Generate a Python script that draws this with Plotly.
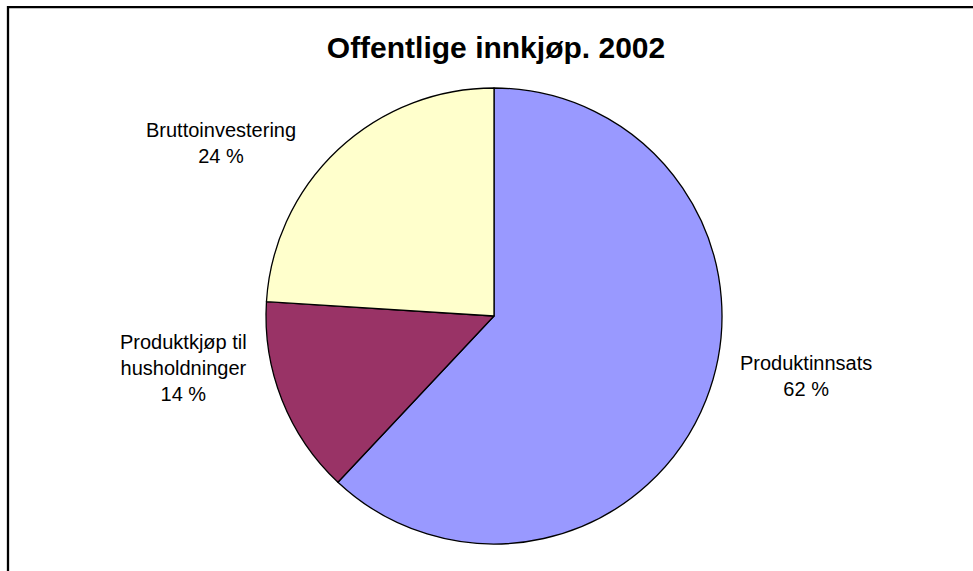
import plotly.graph_objects as go

# Public procurement 2002, share by category (per cent)
categories = ["Produktinnsats", "Produktkjøp til husholdninger", "Bruttoinvestering"]
label_lines = ["Produktinnsats", "Produktkjøp til<br>husholdninger", "Bruttoinvestering"]
shares = [62, 14, 24]
colors = ["#9999FF", "#993366", "#FFFFCC"]

W, H = 973, 571
cx, cy, r = 494, 316, 228

fig = go.Figure(
    go.Pie(
        labels=categories,
        values=shares,
        sort=False,
        direction="clockwise",
        rotation=0,
        marker=dict(colors=colors, line=dict(color="#000000", width=1.3)),
        textinfo="none",
        hoverinfo="label+percent",
        showlegend=False,
        domain=dict(x=[(cx - r) / W, (cx + r) / W], y=[1 - (cy + r) / H, 1 - (cy - r) / H]),
    )
)

# label anchor positions (pixels) for each category
label_pos = [(806, 376), (183, 368), (221, 143)]
annotations = []
for text, val, (px, py) in zip(label_lines, shares, label_pos):
    annotations.append(
        dict(
            text=f"{text}<br>{val} %",
            x=px / W,
            y=1 - py / H,
            xref="paper",
            yref="paper",
            xanchor="center",
            yanchor="middle",
            showarrow=False,
            align="center",
            font=dict(family="Liberation Sans, Arial, sans-serif", size=20, color="#000000"),
        )
    )

fig.update_layout(
    width=W,
    height=H,
    margin=dict(l=0, r=0, t=0, b=0),
    paper_bgcolor="#FFFFFF",
    plot_bgcolor="#FFFFFF",
    title=dict(
        text="<b>Offentlige innkjøp. 2002</b>",
        x=496 / W,
        xanchor="center",
        y=1 - 47 / H,
        yanchor="middle",
        font=dict(family="Liberation Sans, Arial, sans-serif", size=30, color="#000000"),
    ),
    annotations=annotations,
    shapes=[
        dict(
            type="rect",
            xref="paper",
            yref="paper",
            x0=8 / W,
            x1=1.02,
            y0=-0.05,
            y1=1 - 7.2 / H,
            line=dict(color="#000000", width=2.3),
            fillcolor="rgba(0,0,0,0)",
        )
    ],
)

fig.write_html("out.html")
